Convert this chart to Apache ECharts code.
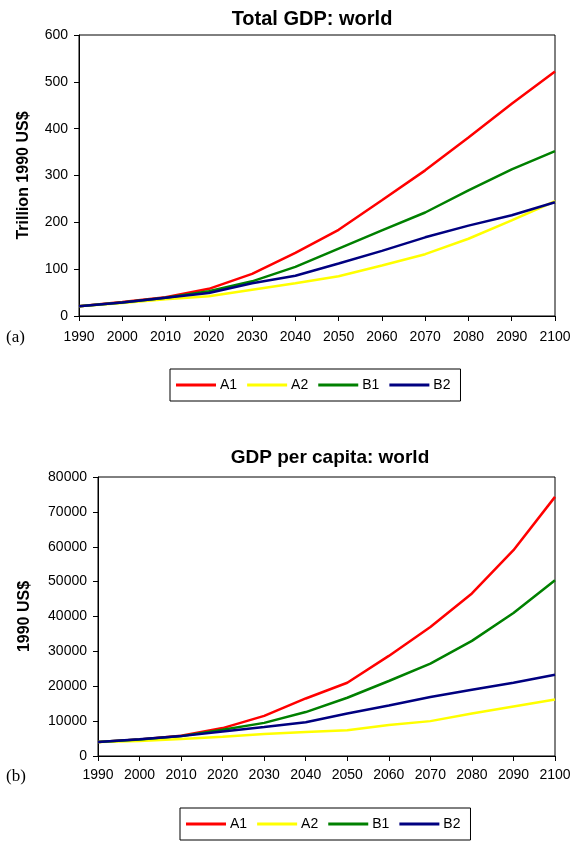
<!DOCTYPE html>
<html>
<head>
<meta charset="utf-8">
<script src="https://cdn.jsdelivr.net/npm/echarts@6/dist/echarts.min.js"></script>
<style>
  html, body { margin: 0; padding: 0; background: #fff; }
  #chart { width: 570px; height: 841px; }
</style>
</head>
<body>
<div id="chart"></div>
<script>
// Scenario years
const years = [1990, 2000, 2010, 2020, 2030, 2040, 2050, 2060, 2070, 2080, 2090, 2100];

// Total world GDP, trillion 1990 US$
const gdpA1 = [21, 30, 40, 58, 90, 135, 184, 247, 311, 381, 453, 522];
const gdpA2 = [21, 28, 36, 42, 56, 70, 85, 108, 132, 165, 204, 245];
const gdpB1 = [21, 29, 39, 53, 74, 105, 144, 183, 221, 268, 313, 352];
const gdpB2 = [21, 29, 39, 49, 70, 86, 112, 139, 168, 193, 215, 243];

// World GDP per capita, 1990 US$
const pcA1 = [4000, 4700, 5800, 8000, 11500, 16500, 21000, 28700, 37000, 46600, 59000, 74300];
const pcA2 = [4000, 4300, 4900, 5500, 6300, 6900, 7400, 8900, 10000, 12200, 14200, 16200];
const pcB1 = [4000, 4700, 5700, 7500, 9500, 12600, 16700, 21500, 26500, 33000, 41000, 50400];
const pcB2 = [4000, 4800, 5700, 7000, 8300, 9700, 12200, 14500, 16900, 19000, 21000, 23300];

const scenarioNames = ['A1', 'A2', 'B1', 'B2'];
const scenarioColors = ['#ff0000', '#ffff00', '#008000', '#000080'];

const FONT = '"Liberation Sans", Arial, sans-serif';

const pairs = vals => years.map((y, i) => [y, vals[i]]);
const plain = v => String(v);

function xAxisFor(gridIndex, labelMargin) {
  return {
    type: 'value', gridIndex, min: 1990, max: 2100, interval: 10,
    axisLine: { show: true, onZero: false, lineStyle: { color: '#000', width: 1 } },
    axisTick: { show: true, length: 5, lineStyle: { color: '#000' } },
    axisLabel: { color: '#000', fontFamily: FONT, fontSize: 14, margin: labelMargin,
                 formatter: plain, showMaxLabel: true, showMinLabel: true, hideOverlap: false },
    splitLine: { show: false }
  };
}

function yAxisFor(gridIndex, max, interval, name, nameGap) {
  return {
    type: 'value', gridIndex, min: 0, max, interval,
    name, nameLocation: 'middle', nameGap, nameRotate: 90,
    nameTextStyle: { color: '#000', fontFamily: FONT, fontSize: 16, fontWeight: 'bold' },
    axisLine: { show: true, lineStyle: { color: '#000', width: 1 } },
    axisTick: { show: true, length: 5, lineStyle: { color: '#000' } },
    axisLabel: { color: '#000', fontFamily: FONT, fontSize: 14, margin: 11, formatter: plain },
    splitLine: { show: false }
  };
}

function seriesFor(sets, axisIndex) {
  return sets.map((vals, i) => ({
    name: scenarioNames[i], type: 'line',
    xAxisIndex: axisIndex, yAxisIndex: axisIndex,
    data: pairs(vals), showSymbol: false, symbol: 'none',
    lineStyle: { color: scenarioColors[i], width: 2.5 },
    itemStyle: { color: scenarioColors[i] },
    animation: false
  }));
}

function legendAt(left, top) {
  return {
    data: scenarioNames, left, top, orient: 'horizontal',
    icon: 'rect', itemWidth: 40, itemHeight: 3, itemGap: 10,
    borderColor: '#000', borderWidth: 1, padding: [9, 10, 9, 6],
    textStyle: { color: '#000', fontFamily: FONT, fontSize: 14, padding: [0, 0, 0, -1] },
    selectedMode: false
  };
}

const chart = echarts.init(document.getElementById('chart'), null, { renderer: 'canvas' });

chart.setOption({
  backgroundColor: '#fff',
  animation: false,
  title: [
    { text: 'Total GDP: world', left: 307, top: 4, textAlign: 'center',
      textStyle: { fontFamily: FONT, fontSize: 20, fontWeight: 'bold', color: '#000' } },
    { text: 'GDP per capita: world', left: 325, top: 443, textAlign: 'center',
      textStyle: { fontFamily: FONT, fontSize: 19, fontWeight: 'bold', color: '#000' } }
  ],
  legend: [legendAt(170, 369), legendAt(180, 808)],
  grid: [
    { left: 79, right: 15, top: 35, height: 281, show: true, borderColor: '#000', borderWidth: 1,
      backgroundColor: 'transparent', outerBoundsMode: 'none', containLabel: false },
    { left: 98, right: 15, top: 477, height: 279, show: true, borderColor: '#000', borderWidth: 1,
      backgroundColor: 'transparent', outerBoundsMode: 'none', containLabel: false }
  ],
  xAxis: [xAxisFor(0, 14), xAxisFor(1, 12)],
  yAxis: [
    yAxisFor(0, 600, 100, 'Trillion 1990 US$', 47),
    yAxisFor(1, 80000, 10000, '1990 US$', 65)
  ],
  series: [
    ...seriesFor([gdpA1, gdpA2, gdpB1, gdpB2], 0),
    ...seriesFor([pcA1, pcA2, pcB1, pcB2], 1)
  ],
  graphic: [
    { type: 'text', left: 6, top: 329,
      style: { text: '(a)', fill: '#000', font: '17px "Liberation Serif", "Times New Roman", serif' } },
    { type: 'text', left: 6, top: 768,
      style: { text: '(b)', fill: '#000', font: '17px "Liberation Serif", "Times New Roman", serif' } }
  ]
});
</script>
</body>
</html>
